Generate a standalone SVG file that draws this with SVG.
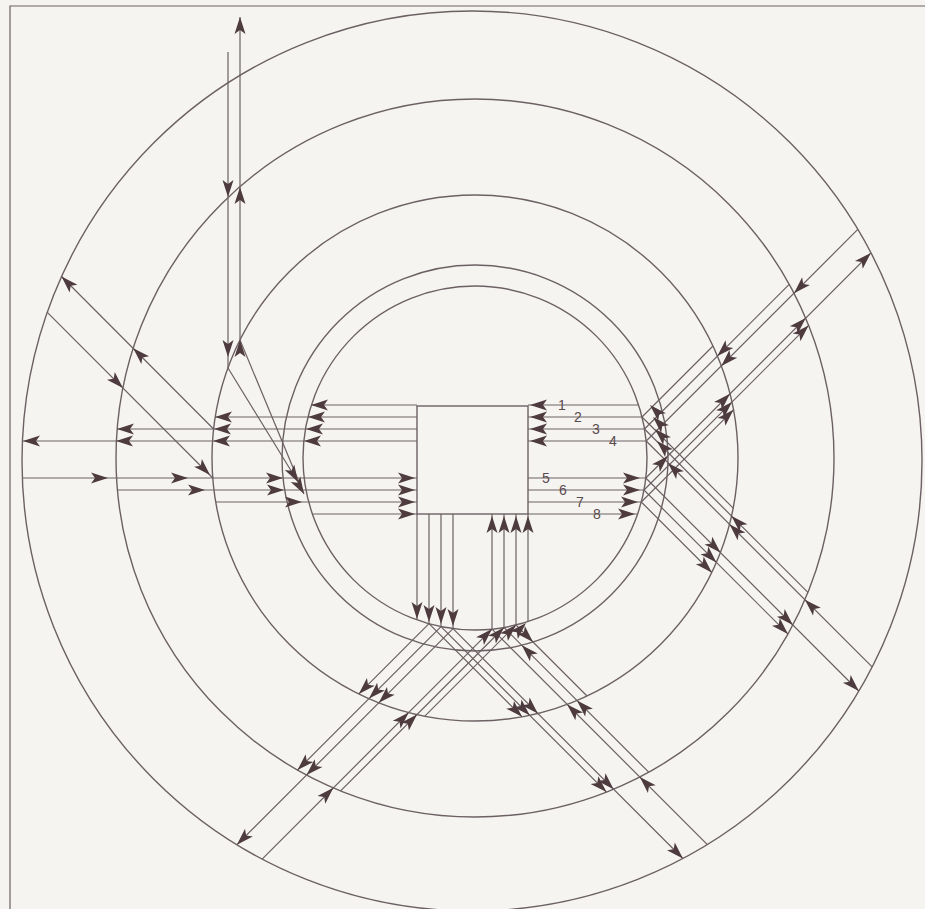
<svg xmlns="http://www.w3.org/2000/svg" xmlns:xlink="http://www.w3.org/1999/xlink" width="925" height="909" viewBox="0 0 925 909">
<style>
.c{fill:none;stroke:#6c6064;stroke-width:1.4}
.l{fill:none;stroke:#6c6064;stroke-width:1.2}
.h{fill:#4e3b3f}
.n{font-family:"Liberation Sans",Arial,sans-serif;font-size:14px;fill:#5a4a4e}
</style>
<defs>
<path id="h" class="h" d="M0,0 L-17,-5.5 L-13,0 L-17,5.5 Z"/>
</defs>
<rect width="925" height="909" fill="#f5f4f1"/>
<path class="l" d="M10,909 V6 H925"/>
<g id="rings">
<circle class="c" cx="472" cy="461" r="450"/>
<circle class="c" cx="475" cy="458" r="359"/>
<circle class="c" cx="475" cy="458" r="263"/>
<circle class="c" cx="475" cy="458" r="193"/>
<circle class="c" cx="475" cy="458" r="172"/>
</g>
<g id="core"><rect class="c" x="417" y="406" width="111" height="108" fill="#f5f4f1"/></g>
<g id="connectors">
<path class="l" d="M528,405H638.6M528,417H642M528,429H644.5M528,441H646.2M528,478H645.8M528,490H644M528,502H641.3M528,514H637.6"/>
<path class="l" d="M642,417L713,346M644.5,429L789.2,284.3M646.2,441L857.8,229.4M645.8,478L870.9,252.9M644,490L808.6,325.4M641.3,502L733.5,409.8"/>
<path class="l" d="M642,417L733.2,508.2M644.5,429L807.9,592.4M646.2,441L872.1,666.9M645.8,478L858.8,691M644,490L787.9,633.9M641.3,502L711.8,572.5"/>
<path class="l" d="M417,514V619.9M429,514V623.7M441,514V626.6M453,514V628.6M492,514V629.2M504,514V627.5M516,514V625M528,514V621.6"/>
<path class="l" d="M453,628.6L236.9,844.7M441,626.6L297.5,770.1M429,623.7L358.8,693.9M492,629.2L262.1,859.1M504,627.5L340.6,790.9M516,625L424.8,716.2"/>
<path class="l" d="M453,628.6L682.9,858.5M441,626.6L606.5,792.1M429,623.7L522.1,716.8M492,629.2L707.4,844.6M504,627.5L648.7,772.2M516,625L587,696"/>
<path class="l" d="M417,405H311.4M417,417H215.2M417,429H117.2M417,441H22.4M417,478H22.3M417,490H117.4M417,502H215.7M417,514H312.4"/>
<path class="l" d="M213.6,429L61.5,276.5M212.8,478L47.3,312.3M228,52V368M240,17V340M228,368L298,482M240,340L304,494"/>
</g>
<g id="heads">
<use href="#h" transform="translate(530,405) rotate(180)"/>
<use href="#h" transform="translate(530,417) rotate(180)"/>
<use href="#h" transform="translate(530,429) rotate(180)"/>
<use href="#h" transform="translate(530,441) rotate(180)"/>
<use href="#h" transform="translate(640,478)"/>
<use href="#h" transform="translate(640,490)"/>
<use href="#h" transform="translate(638,502)"/>
<use href="#h" transform="translate(635,514)"/>
<use href="#h" transform="translate(650,405) rotate(-135)"/>
<use href="#h" transform="translate(653,417) rotate(-135)"/>
<use href="#h" transform="translate(655,429) rotate(-135)"/>
<use href="#h" transform="translate(657,441) rotate(-135)"/>
<use href="#h" transform="translate(668,463) rotate(-135)"/>
<use href="#h" transform="translate(668,456) rotate(-45)"/>
<use href="#h" transform="translate(717.4,356.1) rotate(135)"/>
<use href="#h" transform="translate(721.3,365.9) rotate(135)"/>
<use href="#h" transform="translate(794,293.2) rotate(135)"/>
<use href="#h" transform="translate(730,393.8) rotate(-45)"/>
<use href="#h" transform="translate(732,402) rotate(-45)"/>
<use href="#h" transform="translate(733.5,409.8) rotate(-45)"/>
<use href="#h" transform="translate(805.7,318.1) rotate(-45)"/>
<use href="#h" transform="translate(808.6,325.4) rotate(-45)"/>
<use href="#h" transform="translate(870.9,252.9) rotate(-45)"/>
<use href="#h" transform="translate(731.5,516) rotate(-135)"/>
<use href="#h" transform="translate(729.5,524.3) rotate(-135)"/>
<use href="#h" transform="translate(804.9,599.7) rotate(-135)"/>
<use href="#h" transform="translate(720.4,552.6) rotate(45)"/>
<use href="#h" transform="translate(716.4,562.4) rotate(45)"/>
<use href="#h" transform="translate(711.8,572.5) rotate(45)"/>
<use href="#h" transform="translate(792.8,625) rotate(45)"/>
<use href="#h" transform="translate(787.9,633.9) rotate(45)"/>
<use href="#h" transform="translate(858.8,691) rotate(45)"/>
<use href="#h" transform="translate(417,619) rotate(90)"/>
<use href="#h" transform="translate(429,622) rotate(90)"/>
<use href="#h" transform="translate(441,624) rotate(90)"/>
<use href="#h" transform="translate(453,626) rotate(90)"/>
<use href="#h" transform="translate(492,516) rotate(-90)"/>
<use href="#h" transform="translate(504,516) rotate(-90)"/>
<use href="#h" transform="translate(516,516) rotate(-90)"/>
<use href="#h" transform="translate(528,516) rotate(-90)"/>
<use href="#h" transform="translate(378.8,702.8) rotate(135)"/>
<use href="#h" transform="translate(369,698.6) rotate(135)"/>
<use href="#h" transform="translate(358.8,693.9) rotate(135)"/>
<use href="#h" transform="translate(306.5,775.1) rotate(135)"/>
<use href="#h" transform="translate(297.5,770.1) rotate(135)"/>
<use href="#h" transform="translate(236.9,844.7) rotate(135)"/>
<use href="#h" transform="translate(408.7,712.5) rotate(-45)"/>
<use href="#h" transform="translate(417,714.5) rotate(-45)"/>
<use href="#h" transform="translate(333.4,787.8) rotate(-45)"/>
<use href="#h" transform="translate(492,629) rotate(-45)"/>
<use href="#h" transform="translate(504,627.5) rotate(-45)"/>
<use href="#h" transform="translate(516,625) rotate(-45)"/>
<use href="#h" transform="translate(526,623) rotate(-45)"/>
<use href="#h" transform="translate(537.8,713.4) rotate(45)"/>
<use href="#h" transform="translate(529.7,715.3) rotate(45)"/>
<use href="#h" transform="translate(522.1,716.8) rotate(45)"/>
<use href="#h" transform="translate(613.6,789.2) rotate(45)"/>
<use href="#h" transform="translate(606.5,792.1) rotate(45)"/>
<use href="#h" transform="translate(682.9,858.5) rotate(45)"/>
<use href="#h" transform="translate(567.2,704.4) rotate(-135)"/>
<use href="#h" transform="translate(577,700.5) rotate(-135)"/>
<use href="#h" transform="translate(639.8,777) rotate(-135)"/>
<use href="#h" transform="translate(521.8,645.3) rotate(-135)"/>
<use href="#h" transform="translate(533,642) rotate(45)"/>
<use href="#h" transform="translate(311,405) rotate(180)"/>
<use href="#h" transform="translate(308,417) rotate(180)"/>
<use href="#h" transform="translate(306,429) rotate(180)"/>
<use href="#h" transform="translate(304,441) rotate(180)"/>
<use href="#h" transform="translate(215,417) rotate(180)"/>
<use href="#h" transform="translate(214,429) rotate(180)"/>
<use href="#h" transform="translate(213,441) rotate(180)"/>
<use href="#h" transform="translate(117,429) rotate(180)"/>
<use href="#h" transform="translate(116,441) rotate(180)"/>
<use href="#h" transform="translate(23,441) rotate(180)"/>
<use href="#h" transform="translate(108,478)"/>
<use href="#h" transform="translate(188,478)"/>
<use href="#h" transform="translate(205,490)"/>
<use href="#h" transform="translate(283,478)"/>
<use href="#h" transform="translate(284,490)"/>
<use href="#h" transform="translate(302,502)"/>
<use href="#h" transform="translate(415,478)"/>
<use href="#h" transform="translate(415,490)"/>
<use href="#h" transform="translate(415,502)"/>
<use href="#h" transform="translate(415,514)"/>
<use href="#h" transform="translate(61.5,276.5) rotate(-135)"/>
<use href="#h" transform="translate(133.2,348.2) rotate(-135)"/>
<use href="#h" transform="translate(122.9,387.9) rotate(45)"/>
<use href="#h" transform="translate(210,475) rotate(45)"/>
<use href="#h" transform="translate(228,197) rotate(90)"/>
<use href="#h" transform="translate(228,357) rotate(90)"/>
<use href="#h" transform="translate(240,17) rotate(-90)"/>
<use href="#h" transform="translate(240,187) rotate(-90)"/>
<use href="#h" transform="translate(240,340) rotate(-90)"/>
<use href="#h" transform="translate(298,482) rotate(60)"/>
<use href="#h" transform="translate(304,494) rotate(60)"/>
</g>
<g id="labels">
<text class="n" x="558" y="410">1</text>
<text class="n" x="574" y="422">2</text>
<text class="n" x="592" y="434">3</text>
<text class="n" x="609" y="446">4</text>
<text class="n" x="542" y="483">5</text>
<text class="n" x="559" y="495">6</text>
<text class="n" x="576" y="507">7</text>
<text class="n" x="593" y="519">8</text>
</g>
</svg>
